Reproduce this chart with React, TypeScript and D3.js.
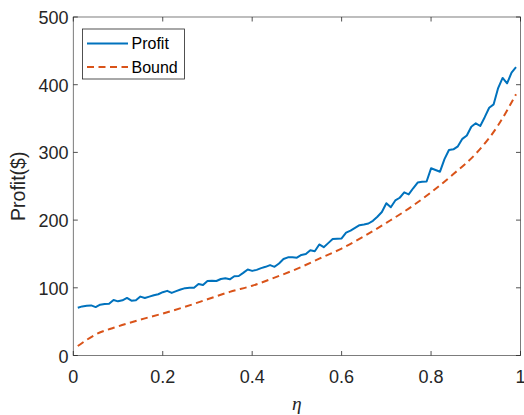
import React from "react";
import * as d3 from "d3";

// eta grid of the simulated profit, 0.01 .. 0.99
const profitEta = d3.range(1, 100).map(i => i / 100);
const profitValues = [
  70.5, 72.5, 73.5, 74, 71.5, 75, 76, 76.5, 82, 80,
  81.5, 85, 81, 81.5, 87, 85, 87, 89, 90.5, 93.5,
  95.5, 92.5, 95, 97.5, 99.5, 100, 100, 105.5, 104, 110,
  110.5, 110, 113, 114, 112.5, 117, 117.5, 122, 127, 125,
  126.5, 129, 131, 133.5, 131, 136, 142.5, 145, 145, 144.5,
  148.5, 150, 155.5, 154, 164, 160, 166, 172, 172.5, 173,
  181.5, 184.5, 188.5, 192.5, 193.5, 195, 199, 205, 212, 225,
  219, 229, 233, 241, 238, 247, 255.5, 256.5, 257, 276.5,
  274, 271.5, 290, 303.5, 304.5, 309, 320, 325, 338, 343,
  339, 352, 366, 371, 395, 410, 402, 418, 426,
];

// analytic bound, read at a coarser grid
const boundEta = [0.01, 0.05, 0.1, 0.15, 0.2, 0.25, 0.3, 0.35, 0.4, 0.45, 0.5,
  0.55, 0.6, 0.65, 0.7, 0.75, 0.8, 0.85, 0.9, 0.95, 0.99];
const boundValues = [14, 31, 43, 53, 62, 72, 83, 94, 103, 115, 128,
  143, 158, 176, 196, 217, 241, 268, 298, 340, 386];

const xTicks = [0, 0.2, 0.4, 0.6, 0.8, 1];
const yTicks = [0, 100, 200, 300, 400, 500];
const legendLabels = ["Profit", "Bound"];

const W = 524;
const H = 415;
const left = 73.3;
const right = 520.5;
const top = 17;
const bottom = 355.5;

const font = "Arial, 'Liberation Sans', Helvetica, sans-serif";
const axisColor = "#262626";
const blue = "#0072BD";
const orange = "#D95319";

const App: React.FC = () => {
  const x = d3.scaleLinear().domain([0, 1]).range([left, right]);
  const y = d3.scaleLinear().domain([0, 500]).range([bottom, top]);

  const profitLine = d3
    .line<number>()
    .x((_, i) => x(profitEta[i]))
    .y(d => y(d))(profitValues);

  const boundLine = d3
    .line<number>()
    .x((_, i) => x(boundEta[i]))
    .y(d => y(d))
    .curve(d3.curveMonotoneX)(boundValues);

  const tickLen = 4.5;

  return (
    <svg
      width={W}
      height={H}
      style={{ position: "absolute", left: 0, top: 0, background: "#fff" }}
    >
      <rect x={0} y={0} width={W} height={H} fill="#fff" />

      {/* data */}
      <path d={boundLine || ""} fill="none" stroke={orange} strokeWidth={2} strokeDasharray="7,4.5" />
      <path d={profitLine || ""} fill="none" stroke={blue} strokeWidth={2} strokeLinejoin="round" />

      {/* box */}
      <rect
        x={left}
        y={top}
        width={right - left}
        height={bottom - top}
        fill="none"
        stroke={axisColor}
        strokeWidth={0.8}
        opacity={0.75}
      />

      {/* x ticks */}
      {xTicks.map(t => (
        <g key={"x" + t}>
          <line x1={x(t)} x2={x(t)} y1={bottom} y2={bottom - tickLen} stroke={axisColor} strokeWidth={0.8} />
          <line x1={x(t)} x2={x(t)} y1={top} y2={top + tickLen} stroke={axisColor} strokeWidth={0.8} />
          <text
            x={x(t)}
            y={383.3}
            textAnchor="middle"
            fontFamily={font}
            fontSize={18}
            fill={axisColor}
          >
            {d3.format("~g")(t)}
          </text>
        </g>
      ))}

      {/* y ticks */}
      {yTicks.map(t => (
        <g key={"y" + t}>
          <line x1={left} x2={left + tickLen} y1={y(t)} y2={y(t)} stroke={axisColor} strokeWidth={0.8} />
          <line x1={right} x2={right - tickLen} y1={y(t)} y2={y(t)} stroke={axisColor} strokeWidth={0.8} />
          <text
            x={68.5}
            y={y(t) + 7}
            textAnchor="end"
            fontFamily={font}
            fontSize={18}
            fill={axisColor}
          >
            {t}
          </text>
        </g>
      ))}

      {/* axis labels */}
      <text
        transform={`translate(25, ${(top + bottom) / 2}) rotate(-90)`}
        textAnchor="middle"
        fontFamily={font}
        fontSize={19.5}
        fill={axisColor}
      >
        Profit($)
      </text>
      <text
        x={(left + right) / 2}
        y={410}
        textAnchor="middle"
        fontFamily="'Liberation Serif', 'DejaVu Serif', serif"
        fontStyle="italic"
        fontSize={19.5}
        fill={axisColor}
      >
        η
      </text>

      {/* legend */}
      <rect x={82.5} y={29} width={102} height={50} fill="#fff" stroke={axisColor} strokeWidth={0.8} />
      {legendLabels.map((name, i) => {
        const ly = 43.5 + i * 23.5;
        return (
          <g key={name}>
            <line
              x1={87}
              x2={128}
              y1={ly}
              y2={ly}
              stroke={i === 0 ? blue : orange}
              strokeWidth={2}
              strokeDasharray={i === 0 ? undefined : "7,4.5"}
            />
            <text x={131.5} y={ly + 5.8} fontFamily={font} fontSize={16} fill="#000">
              {name}
            </text>
          </g>
        );
      })}
    </svg>
  );
};

export default App;
